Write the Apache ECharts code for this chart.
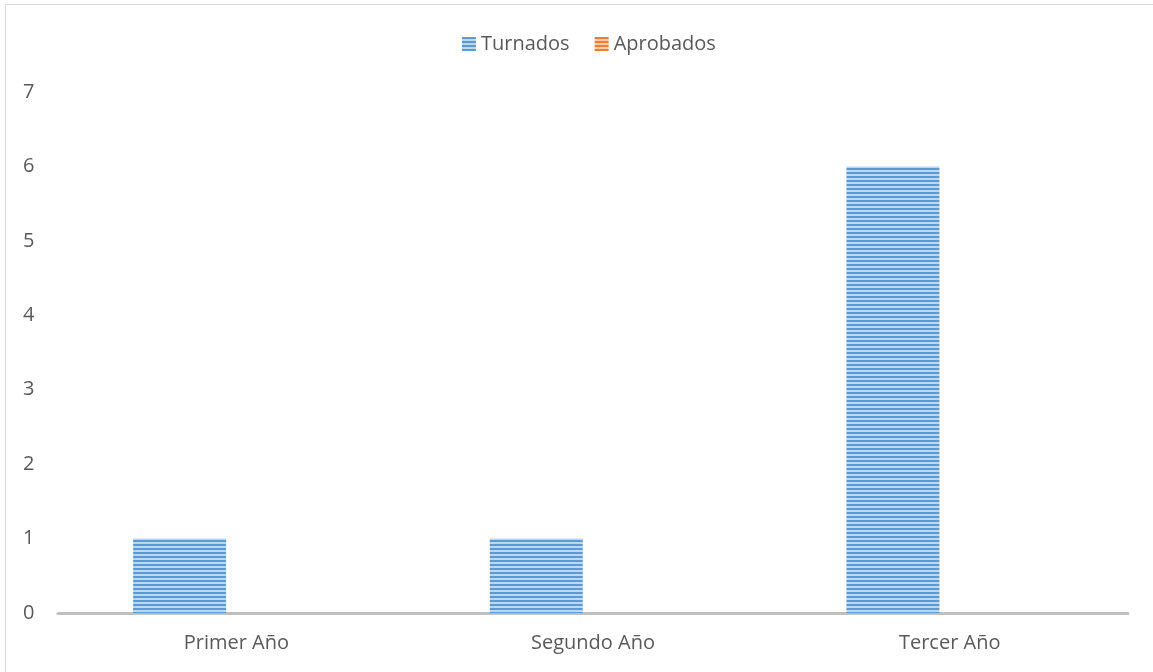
<!DOCTYPE html>
<html>
<head>
<meta charset="utf-8">
<script src="https://cdn.jsdelivr.net/npm/echarts@6/dist/echarts.min.js"></script>
<style>
  html, body { margin: 0; padding: 0; background: #fff; }
  #chart1 { width: 1153px; height: 672px; }
</style>
</head>
<body>
<div id="chart1"></div>
<script>
var categories = ['Primer Año', 'Segundo Año', 'Tercer Año'];
var turnados = [1, 1, 6];
var aprobados = [0, 0, 0];
var yTicks = [0, 1, 2, 3, 4, 5, 6, 7];

// striped fill like the excel pattern
function stripes(dark, light) {
    var c = document.createElement('canvas');
    c.width = 4; c.height = 4;
    var ctx = c.getContext('2d');
    ctx.fillStyle = light;
    ctx.fillRect(0, 0, 4, 4);
    ctx.fillStyle = dark;
    ctx.fillRect(0, 0, 4, 2);
    return { image: c, repeat: 'repeat' };
}

var font = '"Open Sans", sans-serif';
var myChart = echarts.init(document.getElementById('chart1'));

var option = {
    backgroundColor: '#fff',
    animation: false,
    textStyle: { fontFamily: font },
    graphic: [{
        type: 'rect',
        shape: { x: 5.5, y: 4.5, width: 1160, height: 680 },
        style: { fill: 'none', stroke: '#d9d9d9', lineWidth: 1 }
    }],
    legend: {
        top: 29,
        left: 457,
        icon: 'rect',
        itemWidth: 14,
        itemHeight: 14,
        itemGap: 25,
        textStyle: { fontSize: 20, color: '#595959', fontFamily: font },
        data: ['Turnados', 'Aprobados']
    },
    grid: { left: 58, right: 25, top: 92, bottom: 59 },
    xAxis: {
        type: 'category',
        data: categories,
        axisLine: { lineStyle: { color: '#bfbfbf', width: 3 } },
        axisTick: { show: false },
        axisLabel: { fontSize: 20, color: '#595959', margin: 20, fontFamily: font }
    },
    yAxis: {
        type: 'value',
        min: yTicks[0],
        max: yTicks[yTicks.length - 1],
        interval: 1,
        splitLine: { show: false },
        axisLine: { show: false },
        axisTick: { show: false },
        axisLabel: {
            fontSize: 20, color: '#595959', fontFamily: font,
            align: 'left', margin: 35, padding: [4, 0, 0, 0]
        }
    },
    series: [
        {
            name: 'Turnados',
            type: 'bar',
            data: turnados,
            barWidth: 93,
            barGap: '22%',
            itemStyle: { color: stripes('#5b9bd5', '#bdd7ee') }
        },
        {
            name: 'Aprobados',
            type: 'bar',
            data: aprobados,
            barWidth: 93,
            itemStyle: { color: stripes('#ed7d31', '#f8cbad') }
        }
    ]
};
myChart.setOption(option);
</script>
</body>
</html>
